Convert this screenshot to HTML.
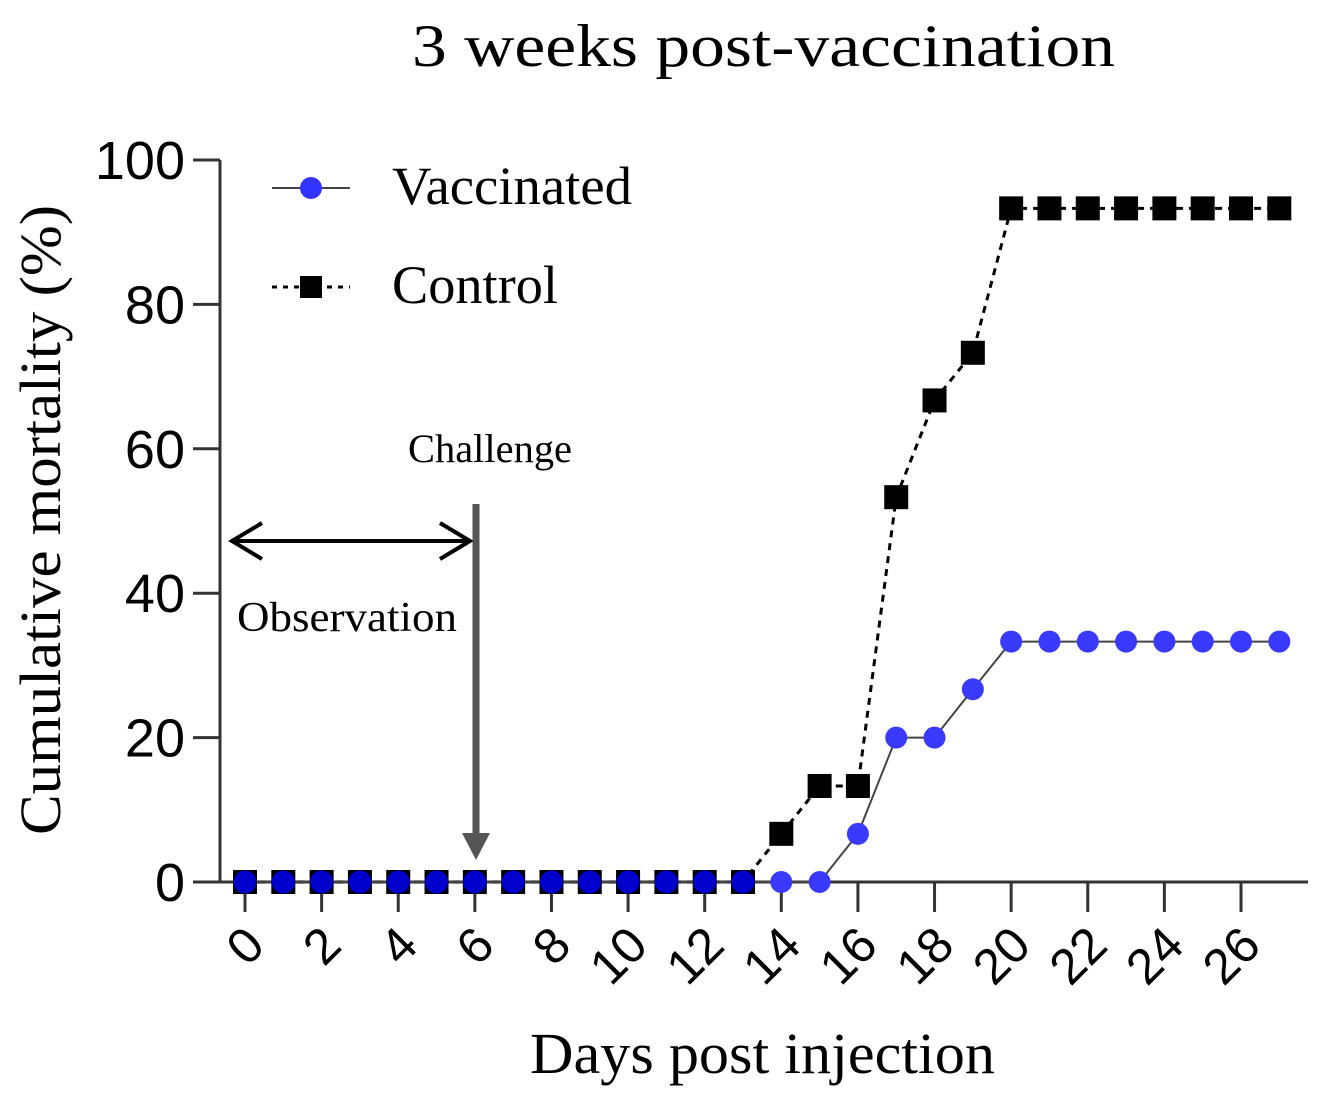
<!DOCTYPE html>
<html><head><meta charset="utf-8"><style>
body{margin:0;background:#fff}
svg{display:block}
.serif{font-family:"Liberation Serif",serif}
.sans{font-family:"Liberation Sans",sans-serif}
</style></head><body>
<svg id="chart" width="1319" height="1104" viewBox="0 0 1319 1104">
<text class="serif" x="412" y="66" font-size="60" textLength="703" lengthAdjust="spacingAndGlyphs">3 weeks post-vaccination</text>
<text class="serif" x="530" y="1073" font-size="58" textLength="465" lengthAdjust="spacingAndGlyphs">Days post injection</text>
<text class="serif" transform="translate(60,835) rotate(-90)" font-size="58" textLength="630" lengthAdjust="spacingAndGlyphs">Cumulative mortality (%)</text>
<g id="axes"></g>
<g id="annot">
<line x1="232" y1="541" x2="468" y2="541" stroke="#000" stroke-width="4"/>
<polyline points="262,523 232,541 262,559" fill="none" stroke="#000" stroke-width="4"/>
<polyline points="440,523 470,541 440,559" fill="none" stroke="#000" stroke-width="4"/>
<text class="serif" x="237" y="631" font-size="42" textLength="220" lengthAdjust="spacingAndGlyphs">Observation</text>
<line x1="476" y1="504" x2="476" y2="840" stroke="#555" stroke-width="7"/>
<polygon points="462,833 490,833 476,860" fill="#555"/>
<text class="serif" x="408" y="462" font-size="40" textLength="164" lengthAdjust="spacingAndGlyphs">Challenge</text>
</g>
<g id="series"></g>
<g>
<line x1="272" y1="188" x2="350" y2="188" stroke="#444" stroke-width="2"/>
<circle cx="311" cy="188" r="11" fill="#3333ff"/>
<text class="serif" x="392" y="204" font-size="54" textLength="240" lengthAdjust="spacingAndGlyphs">Vaccinated</text>
<line x1="272" y1="287" x2="350" y2="287" stroke="#000" stroke-width="3" stroke-dasharray="5,6"/>
<rect x="300" y="276" width="22" height="22" fill="#000"/>
<text class="serif" x="392" y="303" font-size="54" textLength="166" lengthAdjust="spacingAndGlyphs">Control</text>
</g>
</svg>
<script>
const days = [0,1,2,3,4,5,6,7,8,9,10,11,12,13,14,15,16,17,18,19,20,21,22,23,24,25,26,27];
const controlValues = [0,0,0,0,0,0,0,0,0,0,0,0,0,0,6.67,13.3,13.3,53.3,66.7,73.3,93.3,93.3,93.3,93.3,93.3,93.3,93.3,93.3];
const vaccinatedValues = [0,0,0,0,0,0,0,0,0,0,0,0,0,0,0,0,6.67,20,20,26.7,33.3,33.3,33.3,33.3,33.3,33.3,33.3,33.3];
const yTicks = [0,20,40,60,80,100];
const xTicks = [0,2,4,6,8,10,12,14,16,18,20,22,24,26];

const NS = "http://www.w3.org/2000/svg";
const xs = d => 245 + d * (1241 - 245) / 26;
const ys = v => 882 - v * (882 - 160) / 100;
function mk(tag, attrs, parent){const e=document.createElementNS(NS,tag);for(const k in attrs)e.setAttribute(k,attrs[k]);parent.appendChild(e);return e;}
const axes = document.getElementById('axes');
const series = document.getElementById('series');

let e = mk('line',{x1:220,y1:ys(100),x2:220,y2:ys(0),stroke:'#333','stroke-width':3},axes);


e = mk('line',{x1:193,y1:ys(0),x2:1308,y2:ys(0),stroke:'#333','stroke-width':3},axes);


yTicks.forEach(v=>{
  const t = mk('line',{x1:193,y1:ys(v),x2:220,y2:ys(v),stroke:'#333','stroke-width':3},axes);
  
  
  const l = mk('text',{x:185,y:ys(v)+19,'font-size':54,'text-anchor':'end',class:'sans'},axes);
  l.textContent = v;
  
  
});
xTicks.forEach(d=>{
  const t = mk('line',{x1:xs(d),y1:ys(0),x2:xs(d),y2:ys(0)+30,stroke:'#333','stroke-width':3},axes);
  
  
  const l = mk('text',{transform:`translate(${xs(d)+22},${ys(0)+66}) rotate(-45)`,'font-size':50,'text-anchor':'end',class:'sans'},axes);
  l.textContent = d;
  
  
});

const cPts = days.map((d,i)=>xs(d)+','+ys(controlValues[i])).join(' ');
e = mk('polyline',{points:cPts,fill:'none',stroke:'#000','stroke-width':3,'stroke-dasharray':'7,6'},series);


const vPts = days.map((d,i)=>xs(d)+','+ys(vaccinatedValues[i])).join(' ');
e = mk('polyline',{points:vPts,fill:'none',stroke:'#444','stroke-width':2},series);


days.forEach((d,i)=>{
  const r = mk('rect',{x:xs(d)-12,y:ys(controlValues[i])-12,width:24,height:24,fill:'#000'},series);
  
  
});
days.forEach((d,i)=>{
  const fill = d<=13 ? '#0000cc' : '#3a3aff';
  const c = mk('circle',{cx:xs(d),cy:ys(vaccinatedValues[i]),r:d<=13?11.5:11,fill:fill},series);
  
  
});
</script>
</body></html>
